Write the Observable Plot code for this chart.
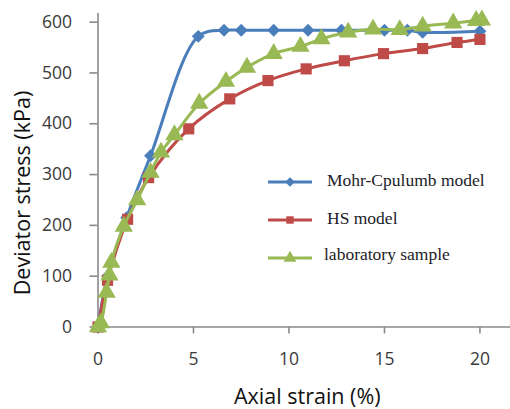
<!DOCTYPE html>
<html>
<head>
<meta charset="utf-8">
<script src="https://cdn.jsdelivr.net/npm/d3@7"></script>
<script src="https://cdn.jsdelivr.net/npm/@observablehq/plot@0.6"></script>
<style>
  html, body { margin: 0; padding: 0; background: #fff; }
  #wrap { position: relative; width: 510px; height: 409px; overflow: hidden; }
  .leg { position: absolute; font-family: "Liberation Serif", "DejaVu Serif", serif; font-size: 17.5px; color: #1c1c28; }
  .leg-row { position: absolute; left: 0; white-space: nowrap; }
  .leg-row svg { position: absolute; left: 0; }
  .leg-row span { position: absolute; white-space: nowrap; }
  .axlab { position: absolute; font-family: "Open Sans", sans-serif; font-size: 21.5px; color: #111; white-space: nowrap; line-height: 22px; height: 22px; }
</style>
</head>
<body>
<div id="wrap"></div>
<script>
// ---- data ----
const seriesNames = ["Mohr-Cpulumb model", "HS model", "laboratory sample"];
const seriesColors = ["#4a7ebb", "#be4b48", "#98b954"];
const xLabel = "Axial strain (%)";
const yLabel = "Deviator stress (kPa)";

const strainMC = [0, 0.5, 1.5, 2.75, 5.25, 6.6, 7.5, 9.2, 11.0, 12.75, 15.0, 16.2, 17.0, 20.0];
const stressMC = [0, 100, 215, 337, 572, 584, 584, 584, 584, 584, 584, 584, 580, 582];

const strainHS = [0, 0.5, 1.55, 2.65, 4.75, 6.9, 8.9, 10.9, 12.9, 14.95, 17.0, 18.8, 20.0];
const stressHS = [0, 92, 212, 294, 390, 449, 485, 508, 524, 538, 548, 560, 566];

const strainLab = [0, 0.15, 0.45, 0.6, 0.7, 1.35, 2.05, 2.75, 3.3, 4.0, 5.3, 6.7, 7.8, 9.2, 10.6, 11.7, 13.1, 14.4, 15.8, 17.0, 18.6, 19.8, 20.1];
const stressLab = [0, 8, 68, 102, 127, 198, 250, 304, 344, 378, 440, 483, 511, 538, 552, 567, 580, 586, 585, 592, 598, 603, 604];

const xTicks = [0, 5, 10, 15, 20];
const yTicks = [0, 100, 200, 300, 400, 500, 600];

const toRows = (xs, ys, s) => xs.map((x, i) => ({x, y: ys[i], s}));
const mc = toRows(strainMC, stressMC, seriesNames[0]);
const hs = toRows(strainHS, stressHS, seriesNames[1]);
const lab = toRows(strainLab, stressLab, seriesNames[2]);

const axisColor = "#8a8a8a";
const tickFont = "'Open Sans', sans-serif";
const tickFill = "#3a3a3a";

const chart = Plot.plot({
  width: 510,
  height: 409,
  marginLeft: 97.5,
  marginRight: 0,
  marginTop: 13,
  marginBottom: 82.5,
  style: { background: "#fff", overflow: "visible" },
  x: { domain: [0, 21.6], axis: null },
  y: { domain: [0, 617], axis: null },
  marks: [
    Plot.ruleY([0], { stroke: axisColor, strokeWidth: 1.6 }),
    Plot.ruleX([0], { stroke: axisColor, strokeWidth: 1.6 }),
    Plot.axisY({ ticks: yTicks, tickSize: 8, stroke: axisColor, strokeWidth: 1.6, label: null, tickFormat: () => "" }),
    Plot.axisX({ ticks: xTicks, tickSize: 7, stroke: axisColor, strokeWidth: 1.6, label: null, tickFormat: () => "" }),
    Plot.text(yTicks, { y: d => d, text: d => String(d), frameAnchor: "left", textAnchor: "end", dx: -26,
      fontSize: 17.5, fontFamily: tickFont, fill: tickFill }),
    Plot.text(xTicks, { x: d => d, text: d => String(d), frameAnchor: "bottom", lineAnchor: "middle", dy: 32.5,
      fontSize: 17.5, fontFamily: tickFont, fill: tickFill }),
    Plot.line(mc, { x: "x", y: "y", stroke: seriesColors[0], strokeWidth: 3, curve: "catmull-rom" }),
    Plot.dot(mc, { x: "x", y: "y", symbol: "diamond2", r: 5.8, fill: seriesColors[0], stroke: null }),
    Plot.line(hs, { x: "x", y: "y", stroke: seriesColors[1], strokeWidth: 3, curve: "catmull-rom" }),
    Plot.dot(hs, { x: "x", y: "y", symbol: "square", r: 6.3, fill: seriesColors[1], stroke: null }),
    Plot.line(lab, { x: "x", y: "y", stroke: seriesColors[2], strokeWidth: 3, curve: "catmull-rom" }),
    Plot.dot(lab, { x: "x", y: "y", symbol: "triangle", r: 6.8, fill: seriesColors[2], stroke: null })
  ]
});

const wrap = document.getElementById("wrap");
wrap.appendChild(chart);

// ---- axis titles ----
const xl = document.createElement("div");
xl.className = "axlab";
xl.textContent = xLabel;
wrap.appendChild(xl);
xl.style.left = (307.5 - xl.offsetWidth / 2) + "px";
xl.style.top = "385px";

const yl = document.createElement("div");
yl.className = "axlab";
yl.textContent = yLabel;
wrap.appendChild(yl);
yl.style.left = (22 - yl.offsetWidth / 2) + "px";
yl.style.top = (192.5 - 11) + "px";
yl.style.transform = "rotate(-90deg)";

// ---- legend overlay ----
const legend = document.createElement("div");
legend.className = "leg";
legend.style.left = "268px";
legend.style.top = "0px";
const rowY = [182, 220, 258];
const symbols = [d3.symbolDiamond2, d3.symbolSquare, d3.symbolTriangle];
const symSizes = [60, 55, 70];
seriesNames.forEach((name, i) => {
  const row = document.createElement("div");
  row.className = "leg-row";
  row.style.top = (rowY[i] - 10) + "px";
  const path = d3.symbol(symbols[i], symSizes[i])();
  row.innerHTML = `<svg width="46" height="20" viewBox="0 0 46 20">
      <line x1="0" x2="44" y1="10" y2="10" stroke="${seriesColors[i]}" stroke-width="3"/>
      <path d="${path}" transform="translate(22,10)" fill="${seriesColors[i]}"/>
    </svg><span style="left:${i === 2 ? 56 : 59}px; top:${i === 2 ? -4 : -2}px">${name}</span>`;
  legend.appendChild(row);
});
wrap.appendChild(legend);
</script>
</body>
</html>
